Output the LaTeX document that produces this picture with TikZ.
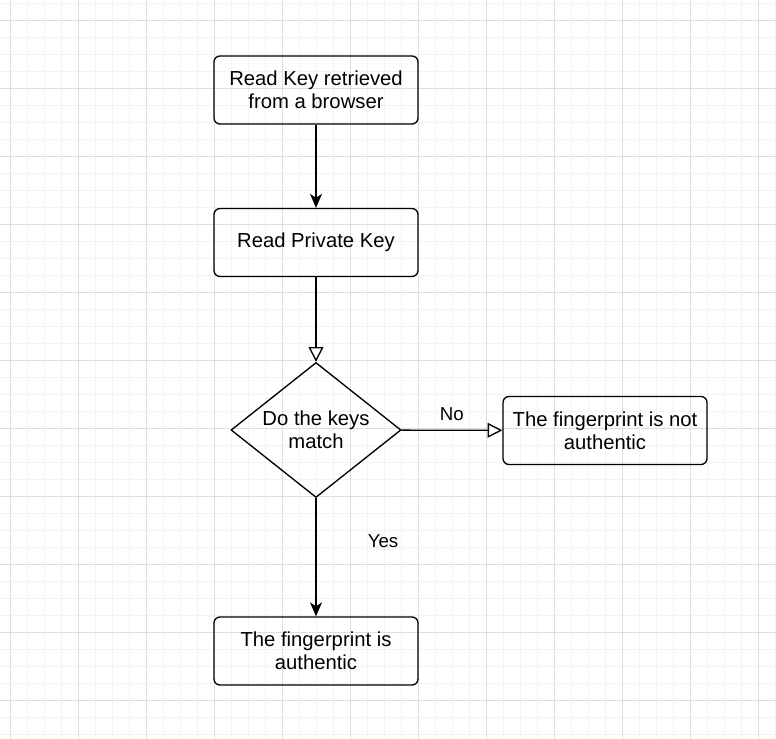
\documentclass[tikz,border=0pt]{standalone}
\usepackage{fontspec}
\setmainfont{Liberation Sans}
\usetikzlibrary{positioning,arrows.meta,shapes.geometric}
\definecolor{gridmajor}{RGB}{222,222,222}
\definecolor{gridminor}{RGB}{243,243,243}

\begin{document}
\begin{tikzpicture}[x=0.75pt, y=-0.75pt, line width=1pt,
    box/.style={draw, rounded corners=4.5pt, minimum width=153pt, minimum height=51pt,
        align=center, inner sep=0pt, font=\fontsize{15.2}{17.3}\selectfont},
    decision/.style={draw, diamond, aspect=1.26, minimum width=127.5pt, minimum height=101.25pt,
        align=center, inner sep=0pt, font=\fontsize{15.2}{17.3}\selectfont},
    label/.style={font=\fontsize{14}{16}\selectfont},
    filled/.style={-{Stealth[length=10.5pt, width=9pt, inset=3pt]}},
    hollow/.style={-{Triangle[open, length=11pt, width=11pt, fill=white]}}]
    \useasboundingbox (0,0) rectangle (776,739);
    \fill[white] (0,0) rectangle (776,739);

    % Grid
    \foreach \k in {0,...,45} {
        \draw[gridminor, line width=0.75pt] ({10+17*\k},0) -- ({10+17*\k},739);
    }
    \foreach \k in {-1,...,42} {
        \draw[gridminor, line width=0.75pt] (0,{20.7+17*\k}) -- (776,{20.7+17*\k});
    }
    \foreach \k in {0,...,11} {
        \draw[gridmajor, line width=0.75pt] ({10+68*\k},0) -- ({10+68*\k},739);
        \draw[gridmajor, line width=0.75pt] (0,{20.7+68*\k}) -- (776,{20.7+68*\k});
    }

    % Steps
    \node[box] (browserkey) at (316,90) {Read Key retrieved\\from a browser};
    \node[box] (privatekey) at (316,242.5) {Read Private Key};
    \node[decision] (match) at (316,430) {Do the keys\\match};
    \node[box] (notauth) at (605,430.5) {The fingerprint is not\\authentic};
    \node[box] (auth) at (316,651) {The fingerprint is\\authentic};

    % Connectors
    \draw[filled] (browserkey) -- (privatekey);
    \draw[hollow] (privatekey) -- (match);
    \draw[hollow] (match) -- node[label, above=3pt] {No} (notauth);
    \draw[filled] (match) -- (auth);
    \node[label] (yes) at (383,541.5) {Yes};

\end{tikzpicture}
\end{document}
